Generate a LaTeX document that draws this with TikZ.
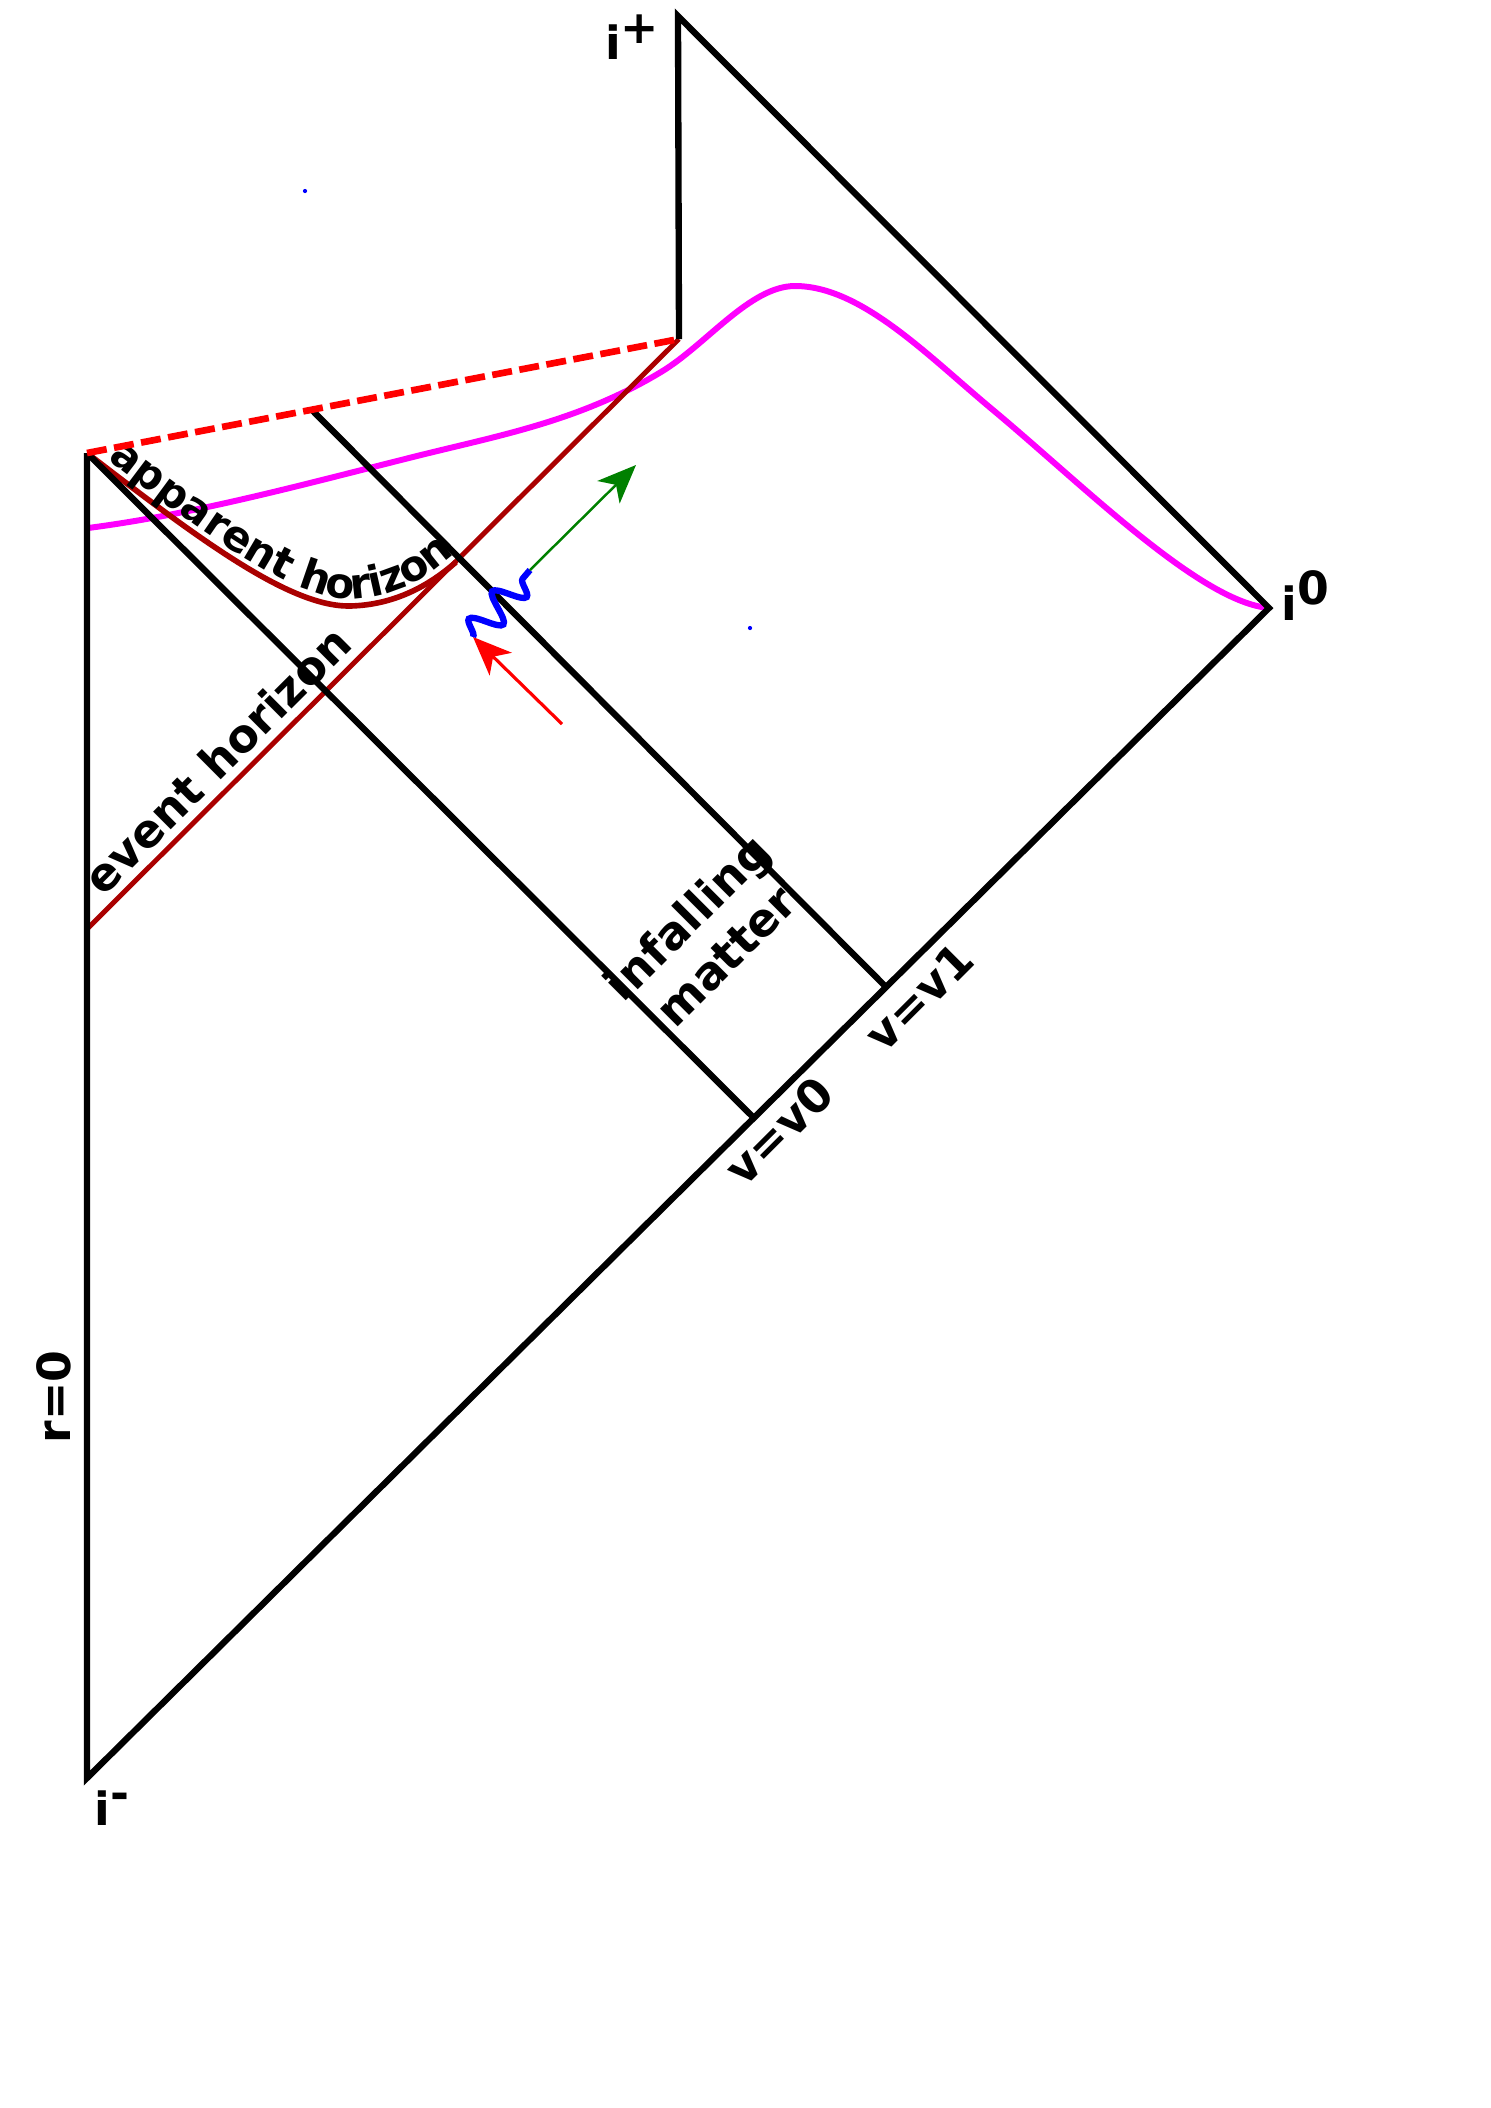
\documentclass[tikz,border=0pt]{standalone}
\usepackage{fontspec}
\setmainfont{DejaVu Sans}
\usepackage{tikz}
\usetikzlibrary{arrows.meta}
\usetikzlibrary{positioning}
\usetikzlibrary{decorations.pathmorphing}
\usetikzlibrary{decorations.text}
\definecolor{ehred}{RGB}{170,0,0}
\definecolor{dgreen}{RGB}{0,128,0}
\definecolor{slicemag}{RGB}{255,0,255}
\newcommand\lblfont{\bfseries\fontsize{13}{15.6}\selectfont}
\newcommand\ahfont{\bfseries\fontsize{12}{14.4}\selectfont}
\newcommand\rsup[1]{\raisebox{.35em}{#1}}
\tikzstyle{bnd}=[line width=1.8pt,line join=miter]
\tikzstyle{eh}=[ehred,line width=1.4pt]
\tikzstyle{ah}=[ehred,line width=1.6pt]
\tikzstyle{sing}=[red,line width=1.9pt,dash pattern=on 0.2cm off 0.075cm]
\tikzstyle{slice}=[slicemag,line width=1.7pt]
\tikzstyle{wave}=[blue,line width=1.8pt,decorate,decoration={snake,segment length=0.36cm,amplitude=0.15cm}]
\tikzstyle{rayhead}=[>/.tip={Stealth[length=11pt,width=9pt,inset=3pt]}]
\tikzstyle{ray}=[rayhead,->]
\tikzstyle{lbl}=[font=\lblfont,text=black,inner sep=0pt]

\begin{document}
\begin{tikzpicture}[x=0.01cm,y=-0.01cm]
	\useasboundingbox (0,0) rectangle (1491,2108);
	\coordinate (Ip)  at (678,16);
	\coordinate (I0)  at (1269,608);
	\coordinate (Im)  at (87,1778);
	\coordinate (E)   at (87,453);
	\coordinate (B)   at (679,339);
	\coordinate (F)   at (87,929);
	\coordinate (J)   at (456,562);
	\coordinate (v0)  at (753,1117);
	\coordinate (v1s) at (312,410);
	\coordinate (v1)  at (885,986);
	\coordinate (r0)  at (562,724);
	\coordinate (r1)  at (473,637);
	\coordinate (g0)  at (530,570);
	\coordinate (g1)  at (636,465);
	% slice
	\draw[slice] (88,528) .. controls (196,514) and (305,484) .. (413,457)
	  .. controls (496,436) and (578,422) .. (661,372)
	  .. controls (706,345) and (750,286) .. (795,286)
	  .. controls (861,286) and (927,355) .. (993,410)
	  .. controls (1083,485) and (1200,602) .. (I0);
	% horizons
	\draw[eh] (F) -- node[lbl,pos=.253,sloped,above=2.3pt] (ehl) {event horizon} (B);
	\draw[ah] (E) .. controls (200,540) and (290,607) .. (350,606) .. controls (395,605) and (430,585) .. (J);
	\path[decorate,decoration={text along path,raise=2pt,text={|\ahfont|apparent horizon},
	    text align={left indent=0.2cm}}]
	  (E) .. controls (200,540) and (290,607) .. (350,606) .. controls (395,605) and (430,585) .. (J) -- ++(40,-40);
	% boundary and shells
	\draw[bnd] (E) -- (Im) -- (I0) -- (Ip) -- (B);
	\draw[bnd] (E) -- (v0);
	\draw[bnd] (v1s) -- (v1);
	\draw[sing] (E) -- (B);
	% labels
	\node[lbl,below left=0.43cm and 0.18cm of Ip,anchor=base east] (lip) {i\rsup{+}};
	\node[lbl,below right=0.12cm and 0.12cm of I0,anchor=base west] (li0) {i\rsup{0}};
	\node[lbl,below right=0.47cm and 0.07cm of Im,anchor=base west] (lim) {i\rsup{-}};
	\node[lbl,rotate=90] (lr) at (54,1397) {r=0};
	\node[lbl,rotate=45] (lv0) at (779,1131) {v=v0};
	\node[lbl,rotate=45] (lv1) at (919,997) {v=v1};
	\node[lbl,rotate=45,align=center] (lm) at (706,936) {infalling\\matter};
	% quanta
	\draw[ray,red,line width=0.9pt] (r0) -- (r1);
	\draw[wave] (r1) -- (g0);
	\draw[ray,dgreen,line width=0.7pt] (g0) -- (g1);
	\fill[blue] (305,191) circle[radius=0.6pt];
	\fill[blue] (750,628) circle[radius=0.6pt];
\end{tikzpicture}
\end{document}
